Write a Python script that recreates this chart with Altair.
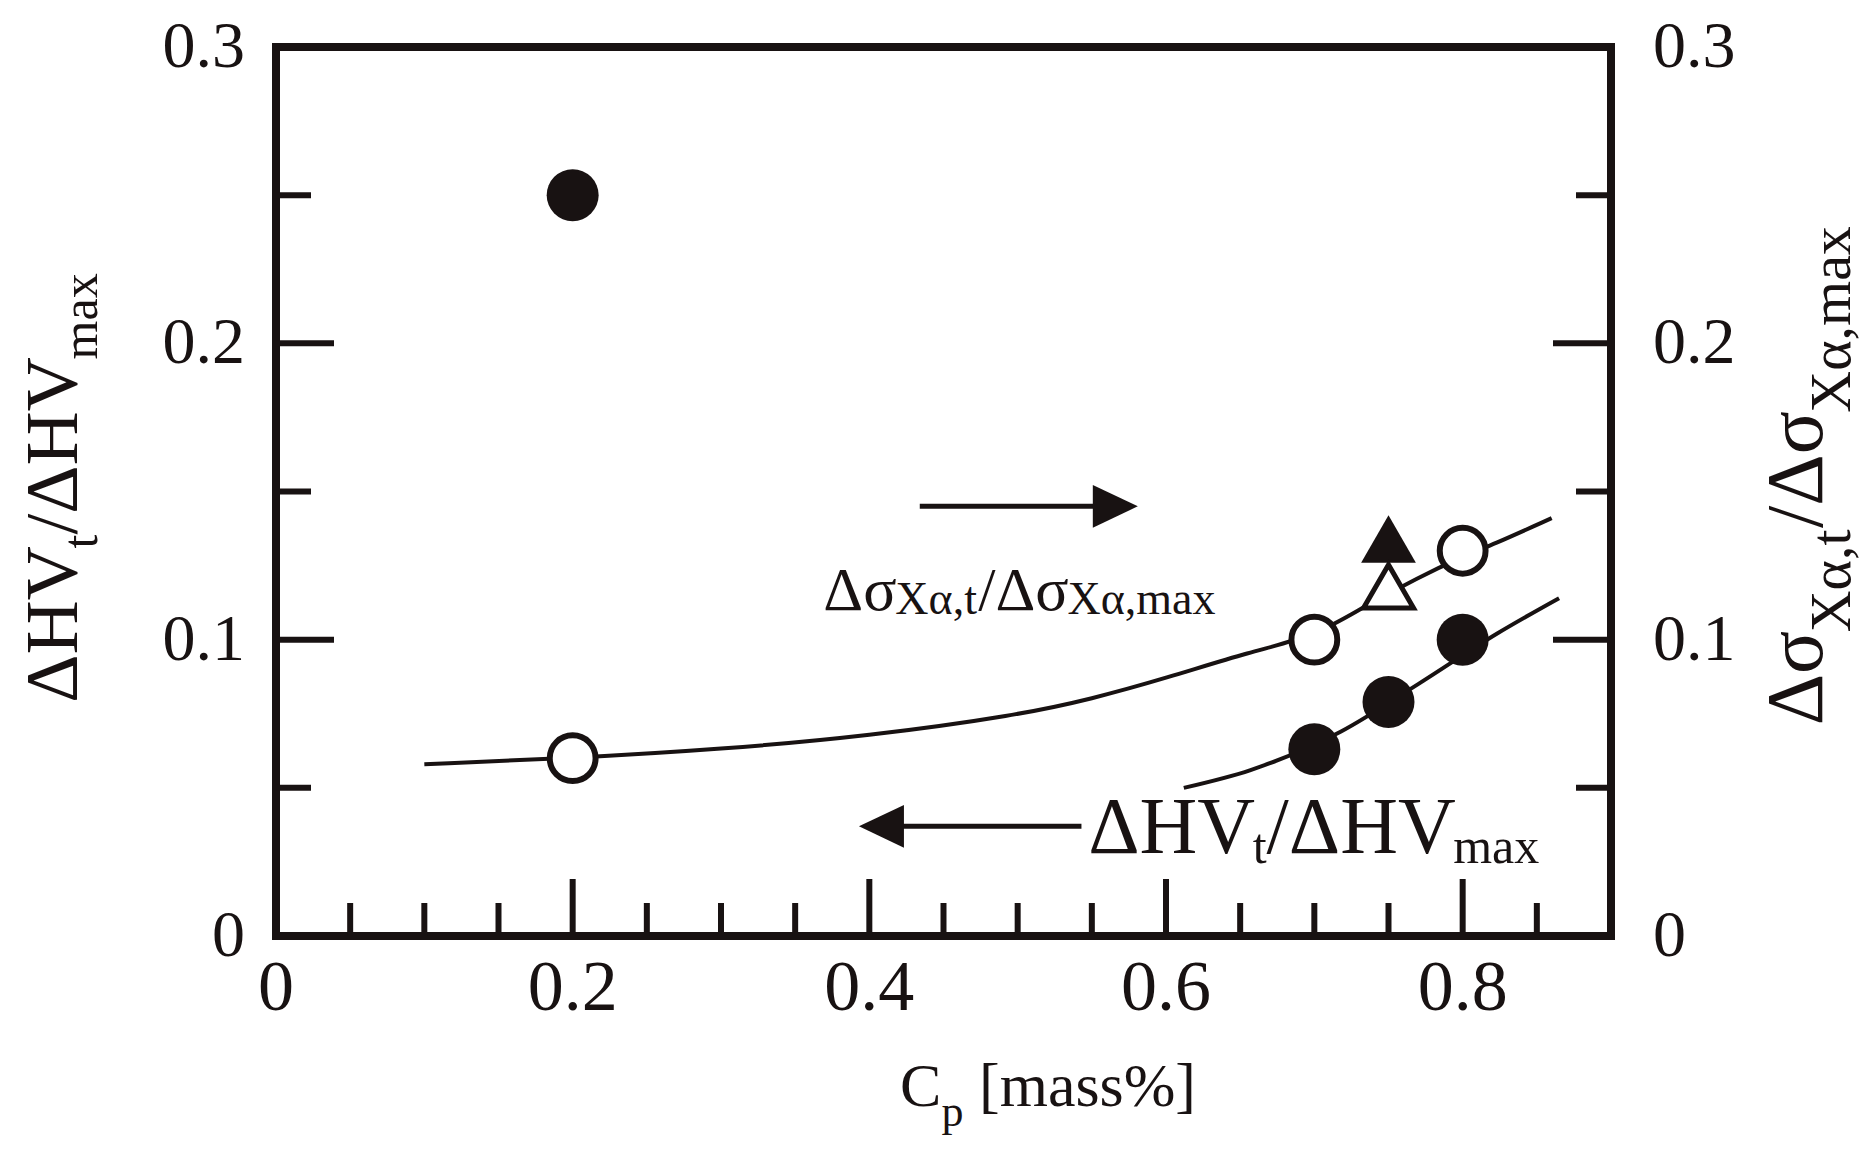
import altair as alt
import pandas as pd

FONT = "Liberation Serif"
INK = "#181212"

# ---------------- data ----------------
# Delta HV_t / Delta HV_max  (filled circles, left axis)
hv_x = [0.2, 0.7, 0.75, 0.8]
hv_y = [0.25, 0.063, 0.079, 0.10]
# Delta sigma_Xa,t / Delta sigma_Xa,max (open circles, right axis)
sig_x = [0.2, 0.7, 0.8]
sig_y = [0.06, 0.10, 0.13]
# triangles at 0.75
tri_fill_x = [0.75]
tri_fill_y = [0.134]
tri_open_x = [0.75]
tri_open_y = [0.118]
# hand-drawn guide curves
sig_fit_x = [0.10, 0.20, 0.30, 0.40, 0.50, 0.55, 0.60, 0.657, 0.70, 0.733, 0.77, 0.80, 0.82, 0.86]
sig_fit_y = [0.058, 0.060, 0.063, 0.0675, 0.0745, 0.080, 0.087, 0.096, 0.101, 0.111, 0.121, 0.128, 0.132, 0.141]
hv_fit_x = [0.612, 0.657, 0.718, 0.770, 0.823, 0.865]
hv_fit_y = [0.050, 0.056, 0.069, 0.085, 0.102, 0.114]
# ticks
x_tick_labels = [0, 0.2, 0.4, 0.6, 0.8]
y_tick_labels = [0, 0.1, 0.2, 0.3]
x_major = [0.2, 0.4, 0.6, 0.8]
x_minor = [0.05, 0.1, 0.15, 0.25, 0.3, 0.35, 0.45, 0.5, 0.55, 0.65, 0.7, 0.75, 0.85]
y_major = [0.1, 0.2]
y_minor = [0.05, 0.15, 0.25]
# annotation arrows (shaft start, tip) and their heights
arrow_right_x = [0.434, 0.581]
arrow_right_y = 0.145
arrow_left_x = [0.543, 0.393]
arrow_left_y = 0.037

# ---------------- layout / style ----------------
W, H = 1335, 889
xs = alt.Scale(domain=[0, 0.9], nice=False, zero=False)
ys = alt.Scale(domain=[0, 0.3], nice=False, zero=False)


def X(field):
    return alt.X(field, type="quantitative", scale=xs, axis=None)


def Y(field):
    return alt.Y(field, type="quantitative", scale=ys, axis=None)


def fmt(v):
    return "0" if v == 0 else f"{v:g}"


# approximate Times advance widths (em) for laying out sub-scripted labels
CW = {"Δ": 0.612, "σ": 0.55, "α": 0.55, "X": 0.722, "H": 0.722, "V": 0.722, "t": 0.278,
      "/": 0.278, "m": 0.778, "a": 0.444, "x": 0.5, ",": 0.25, "C": 0.667, "p": 0.5,
      " ": 0.25, "[": 0.333, "s": 0.389, "%": 0.833, "]": 0.333}


def layout(parts, F, S, sub_dy):
    segs, pos = [], 0.0
    for txt, sub in parts:
        size = S if sub else F
        if txt.strip():
            segs.append(dict(text=txt, size=size, dx=round(pos, 1), dy=sub_dy if sub else 0))
        pos += sum(CW.get(c, 0.5) for c in txt) * size
    return segs, pos


def data_label(parts, F, S, sub_dy, ax, ay):
    segs, _ = layout(parts, F, S, sub_dy)
    out = []
    for s in segs:
        df = pd.DataFrame({"x": [ax], "y": [ay], "t": [s["text"]]})
        out.append(alt.Chart(df).mark_text(font=FONT, fontSize=s["size"], align="left",
                                           baseline="alphabetic", dx=s["dx"], dy=s["dy"],
                                           color=INK)
                   .encode(x=X("x"), y=Y("y"), text="t:N"))
    return out


def pixel_label(parts, F, S, sub_dy, px, py, rotated):
    segs, total = layout(parts, F, S, sub_dy)
    out = []
    for s in segs:
        df = pd.DataFrame({"t": [s["text"]]})
        if rotated:
            mk = alt.Chart(df).mark_text(font=FONT, fontSize=s["size"], align="left",
                                         baseline="alphabetic", dx=s["dx"], dy=s["dy"],
                                         angle=270, color=INK)
            enc = mk.encode(x=alt.value(px), y=alt.value(py + total / 2), text="t:N")
        else:
            mk = alt.Chart(df).mark_text(font=FONT, fontSize=s["size"], align="left",
                                         baseline="alphabetic", dx=s["dx"], dy=s["dy"],
                                         color=INK)
            enc = mk.encode(x=alt.value(px - total / 2), y=alt.value(py), text="t:N")
        out.append(enc)
    return out


hv_parts = [("ΔHV", 0), ("t", 1), ("/", 0), ("ΔHV", 0), ("max", 1)]
sig_parts = [("Δσ", 0), ("Xα,t", 1), ("/", 0), ("Δσ", 0), ("Xα,max", 1)]
xt_parts = [("C", 0), ("p", 1), (" ", 0), ("[mass%]", 0)]

# ---------------- tick labels (drawn through the scales) ----------------
xl_df = pd.DataFrame({"v": x_tick_labels, "lab": [fmt(v) for v in x_tick_labels]})
yl_df = pd.DataFrame({"v": y_tick_labels, "lab": [fmt(v) for v in y_tick_labels]})
tick_labels = [
    alt.Chart(xl_df).mark_text(font=FONT, fontSize=72, align="center", baseline="top",
                               dy=17, color=INK)
    .encode(x=X("v"), y=alt.value(H), text="lab:N"),
    alt.Chart(yl_df).mark_text(font=FONT, fontSize=66, align="right", baseline="middle",
                               dx=-31, color=INK)
    .encode(y=Y("v"), x=alt.value(0), text="lab:N"),
    alt.Chart(yl_df).mark_text(font=FONT, fontSize=66, align="left", baseline="middle",
                               dx=42, color=INK)
    .encode(y=Y("v"), x=alt.value(W), text="lab:N"),
]


def rules_y(vals, x0, x1):
    return alt.Chart(pd.DataFrame({"v": vals})).mark_rule(color=INK, strokeWidth=6).encode(
        y=Y("v"), x=alt.value(x0), x2=alt.value(x1))


def rules_x(vals, y0, y1):
    return alt.Chart(pd.DataFrame({"v": vals})).mark_rule(color=INK, strokeWidth=6).encode(
        x=X("v"), y=alt.value(y0), y2=alt.value(y1))


ticks = [
    rules_y(y_major, 0, 58), rules_y(y_minor, 0, 35),
    rules_y(y_major, W, W - 58), rules_y(y_minor, W, W - 35),
    rules_x(x_major, H, H - 57), rules_x(x_minor, H, H - 33),
]

arr_r = pd.DataFrame({"x0": [arrow_right_x[0]], "x1": [arrow_right_x[1] - 0.012],
                      "tip": [arrow_right_x[1]], "y": [arrow_right_y]})
arr_l = pd.DataFrame({"x0": [arrow_left_x[0]], "x1": [arrow_left_x[1] + 0.012],
                      "tip": [arrow_left_x[1]], "y": [arrow_left_y]})
arrows = [
    alt.Chart(arr_r).mark_rule(color=INK, strokeWidth=5).encode(x=X("x0"), x2="x1", y=Y("y")),
    alt.Chart(arr_r).mark_point(shape="M0,0L-2,-0.95L-2,0.95Z", size=2025, filled=True,
                                color=INK, opacity=1).encode(x=X("tip"), y=Y("y")),
    alt.Chart(arr_l).mark_rule(color=INK, strokeWidth=5).encode(x=X("x0"), x2="x1", y=Y("y")),
    alt.Chart(arr_l).mark_point(shape="M0,0L2,-0.95L2,0.95Z", size=2025, filled=True,
                                color=INK, opacity=1).encode(x=X("tip"), y=Y("y")),
]

texts = []
texts += data_label(sig_parts, 62, 46, 4, 0.369, 0.110)
texts += data_label(hv_parts, 80, 50, 10, 0.5475, 0.028)
texts += pixel_label(hv_parts, 75, 50, 20, -199, 441, True)
texts += pixel_label(sig_parts, 80, 58, 28, 1546, 428, True)
texts += pixel_label(xt_parts, 62, 44, 20, 772, 1059, False)

# ---------------- data marks ----------------
hv_line = alt.Chart(pd.DataFrame({"x": hv_fit_x, "y": hv_fit_y})).mark_line(
    color=INK, strokeWidth=4, interpolate="monotone").encode(x=X("x"), y=Y("y"))
sig_line = alt.Chart(pd.DataFrame({"x": sig_fit_x, "y": sig_fit_y})).mark_line(
    color=INK, strokeWidth=4, interpolate="basis").encode(x=X("x"), y=Y("y"))
hv_pts = alt.Chart(pd.DataFrame({"x": hv_x, "y": hv_y})).mark_point(
    shape="circle", filled=True, size=2700, color=INK, opacity=1).encode(x=X("x"), y=Y("y"))
tri_f = alt.Chart(pd.DataFrame({"x": tri_fill_x, "y": tri_fill_y})).mark_point(
    shape="triangle-up", filled=True, size=3000, color=INK, opacity=1).encode(x=X("x"), y=Y("y"))
tri_o = alt.Chart(pd.DataFrame({"x": tri_open_x, "y": tri_open_y})).mark_point(
    shape="triangle-up", filled=True, size=2500, fill="white", stroke=INK, strokeWidth=5,
    opacity=1).encode(x=X("x"), y=Y("y"))
sig_pts = alt.Chart(pd.DataFrame({"x": sig_x, "y": sig_y})).mark_point(
    shape="circle", filled=True, size=2100, fill="white", stroke=INK, strokeWidth=6,
    opacity=1).encode(x=X("x"), y=Y("y"))

chart = (
    alt.layer(hv_line, sig_line, *ticks, *arrows, *texts, *tick_labels,
              hv_pts, tri_f, tri_o, sig_pts)
    .properties(width=W, height=H,
                padding={"left": 268, "top": 39, "right": 255, "bottom": 206},
                autosize=alt.AutoSizeParams(type="none"),
                background="white")
    .configure_view(stroke=INK, strokeWidth=8)
)

chart.save("out.html", embed_options={"renderer": "svg", "actions": False})
